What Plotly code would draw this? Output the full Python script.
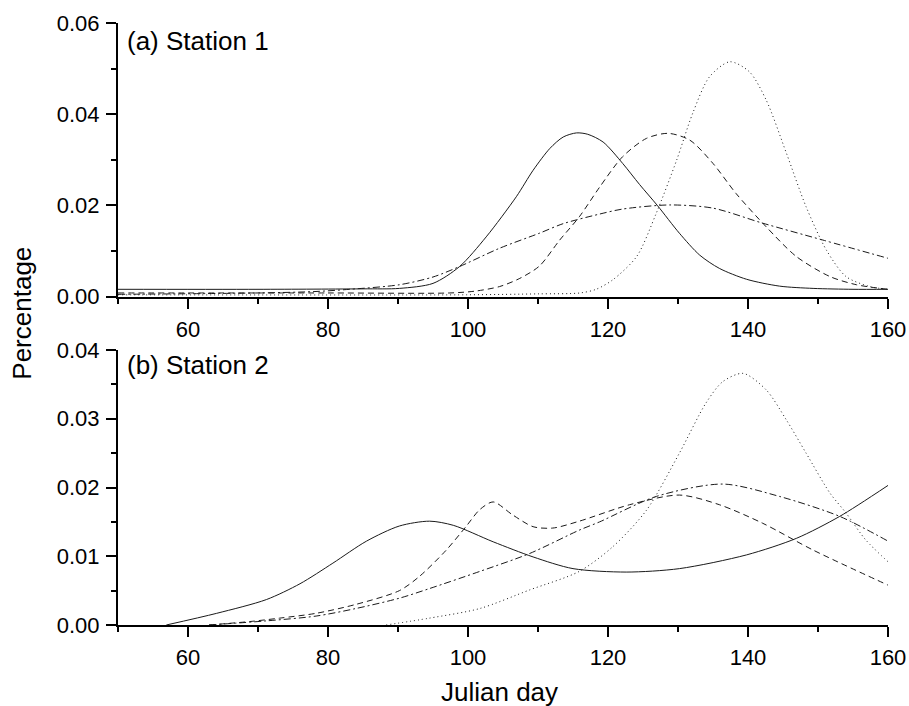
import plotly.graph_objects as go

# ---------------- data ----------------
# Panel (a) Station 1
a_solid_day = [50, 70, 85, 90.2, 95, 98.8, 102.6, 106.9, 109.3, 111.7, 113.6, 115.5, 117.1,
               119.3, 122.1, 124.5, 127.1, 130.2, 133.1, 135.9, 139.8, 144.5, 149.3, 155, 160]
a_solid_val = [0.0016, 0.0016, 0.0017, 0.0018, 0.0029, 0.0066, 0.0131, 0.0219, 0.0277,
               0.0325, 0.0350, 0.0359, 0.0356, 0.0339, 0.0292, 0.0246, 0.0199, 0.0139, 0.0091,
               0.0062, 0.0038, 0.0023, 0.0018, 0.0016, 0.0016]

a_dash_day = [50, 80, 97.4, 101, 104.5, 107.4, 110.2, 113.1, 115.9, 118.8, 122.1, 125.5, 128.6,
              131.7, 135.0, 138.3, 142.6, 146.9, 151.7, 155.5, 160]
a_dash_val = [0.0008, 0.0008, 0.0008, 0.0012, 0.0022, 0.0040, 0.0067, 0.0124, 0.0175, 0.0240,
              0.0307, 0.0347, 0.0358, 0.0343, 0.0292, 0.0226, 0.0153, 0.0088, 0.0044, 0.0026,
              0.0016]

a_dot_day = [50, 100, 110, 116, 118.3, 120.7, 124.1, 126.9, 129.8, 132.1, 134.5, 137.4, 140.2,
             142.6, 145.5, 148.3, 151.2, 154.0, 157.4, 160]
a_dot_val = [0.0004, 0.0004, 0.0006, 0.0008, 0.0016, 0.0037, 0.0088, 0.0183, 0.0299, 0.0402,
             0.0482, 0.0515, 0.0493, 0.0431, 0.0314, 0.0197, 0.0102, 0.0044, 0.0022, 0.0016]

a_dd_day = [50, 70, 78, 83.1, 90.2, 95, 98.8, 104.5, 110.2, 113.6, 118.8, 122.1, 128.8, 135.0,
            142.1, 150.7, 160]
a_dd_val = [0.0005, 0.0008, 0.0011, 0.0016, 0.0026, 0.0043, 0.0066, 0.0106, 0.0139, 0.0160,
            0.0181, 0.0192, 0.0201, 0.0194, 0.0161, 0.0124, 0.0084]

# Panel (b) Station 2
b_solid_day = [56.9, 64.1, 71.2, 76.0, 80.7, 85.5, 90.2, 94.5, 97.9, 103.6, 109.3, 115.0,
               122.6, 130.2, 139.8, 146.9, 153.1, 160]
b_solid_val = [0.0, 0.0017, 0.0037, 0.0060, 0.0090, 0.0122, 0.0144, 0.0151, 0.0145, 0.0121,
               0.0099, 0.0082, 0.0077, 0.0082, 0.0102, 0.0126, 0.0158, 0.0203]

b_dash_day = [63, 68.8, 73.1, 78.3, 84, 90.2, 93.1, 96.9, 99.7, 101.7, 103.6, 106.4, 109.3,
              112.1, 115.9, 123.1, 130.2, 135.9, 142.1, 149.3, 160]
b_dash_val = [0.0, 0.0005, 0.0010, 0.0017, 0.0030, 0.0050, 0.0071, 0.0109, 0.0143, 0.0168,
              0.0179, 0.0160, 0.0143, 0.0141, 0.0151, 0.0175, 0.0189, 0.0175, 0.0148, 0.0109,
              0.0058]

b_dot_day = [88.3, 94.5, 101.7, 108.8, 115.9, 120.7, 125.5, 130.2, 134.0, 136.4, 139.3, 142.6,
             145.5, 148.3, 151.7, 154.0, 156.8, 160]
b_dot_val = [0.0, 0.0010, 0.0024, 0.0051, 0.0078, 0.0114, 0.0167, 0.0250, 0.0323, 0.0354,
             0.0366, 0.0342, 0.0298, 0.0250, 0.0192, 0.0163, 0.0124, 0.0092]

b_dd_day = [63, 71.2, 78.3, 84, 90.2, 94.5, 101.7, 108.8, 115.9, 118.8, 126.9, 136.4, 144.5,
            153.1, 160]
b_dd_val = [0.0, 0.0006, 0.0013, 0.0024, 0.0039, 0.0053, 0.0078, 0.0104, 0.0138, 0.0150,
            0.0187, 0.0205, 0.0187, 0.0158, 0.0122]

# ---------------- figure ----------------
LINE_COLOR = "#1a1a1a"
DASH = "6px,4px"
DOT = "1px,3px"
DASHDOT = "7px,3px,2px,3px"

fig = go.Figure()

def add(x, y, dash, xa, ya):
    fig.add_trace(go.Scatter(
        x=x, y=y, mode="lines", xaxis=xa, yaxis=ya, showlegend=False,
        line=dict(color=LINE_COLOR, width=1, dash=dash, shape="spline", smoothing=0.8),
        hoverinfo="skip"))

add(a_solid_day, a_solid_val, "solid", "x2", "y2")
add(a_dash_day, a_dash_val, DASH, "x2", "y2")
add(a_dot_day, a_dot_val, DOT, "x2", "y2")
add(a_dd_day, a_dd_val, DASHDOT, "x2", "y2")

add(b_solid_day, b_solid_val, "solid", "x", "y")
add(b_dash_day, b_dash_val, DASH, "x", "y")
add(b_dot_day, b_dot_val, DOT, "x", "y")
add(b_dd_day, b_dd_val, DASHDOT, "x", "y")

FONT = "Liberation Sans, Arial, Helvetica, sans-serif"
TICKFONT = dict(family=FONT, size=22, color="black")

common_axis = dict(
    showgrid=False, zeroline=False, showline=True, linecolor="black", linewidth=2,
    ticks="outside", ticklen=10, tickwidth=2, tickcolor="black", tickfont=TICKFONT,
    automargin=False,
)

xcommon = dict(common_axis, range=[50, 160], tick0=0, dtick=20, ticklabelstandoff=2,
               minor=dict(ticks="outside", ticklen=5, tickwidth=2, tickcolor="black",
                          tick0=0, dtick=10))

fig.update_layout(
    width=909, height=706,
    margin=dict(l=118, r=21, t=23, b=81, autoexpand=False),
    paper_bgcolor="white", plot_bgcolor="white",
    font=dict(family=FONT, color="black"),
    xaxis=dict(xcommon, domain=[0, 1], anchor="y"),
    yaxis=dict(common_axis, domain=[0, 0.4568], anchor="x", range=[0, 0.04],
               tick0=0, dtick=0.01, tickformat=".2f", ticklabelstandoff=2,
               minor=dict(ticks="outside", ticklen=5, tickwidth=2, tickcolor="black",
                          tick0=0, dtick=0.005)),
    xaxis2=dict(xcommon, domain=[0, 1], anchor="y2"),
    yaxis2=dict(common_axis, domain=[0.5455, 1], anchor="x2", range=[0, 0.06],
                tick0=0, dtick=0.02, tickformat=".2f", ticklabelstandoff=2,
                minor=dict(ticks="outside", ticklen=5, tickwidth=2, tickcolor="black",
                           tick0=0, dtick=0.01)),
    annotations=[
        dict(text="(a) Station 1", xref="paper", yref="paper", x=0.009, y=0.970,
             xanchor="left", yanchor="middle", showarrow=False,
             font=dict(family=FONT, size=26, color="black")),
        dict(text="(b) Station 2", xref="paper", yref="paper", x=0.009, y=0.432,
             xanchor="left", yanchor="middle", showarrow=False,
             font=dict(family=FONT, size=26, color="black")),
        dict(text="Percentage", xref="paper", yref="paper", x=-0.124, y=0.518,
             xanchor="center", yanchor="middle", textangle=-90, showarrow=False,
             font=dict(family=FONT, size=26, color="black")),
        dict(text="Julian day", xref="paper", yref="paper", x=0.496, y=-0.083,
             xanchor="center", yanchor="top", showarrow=False,
             font=dict(family=FONT, size=26, color="black")),
    ],
)

# Remove the default page margin so the 909x706 figure fills the window exactly.
fig.write_html(
    "out.html",
    config={"displayModeBar": False},
    post_script="document.body.style.margin='0';document.body.style.overflow='hidden';",
)
